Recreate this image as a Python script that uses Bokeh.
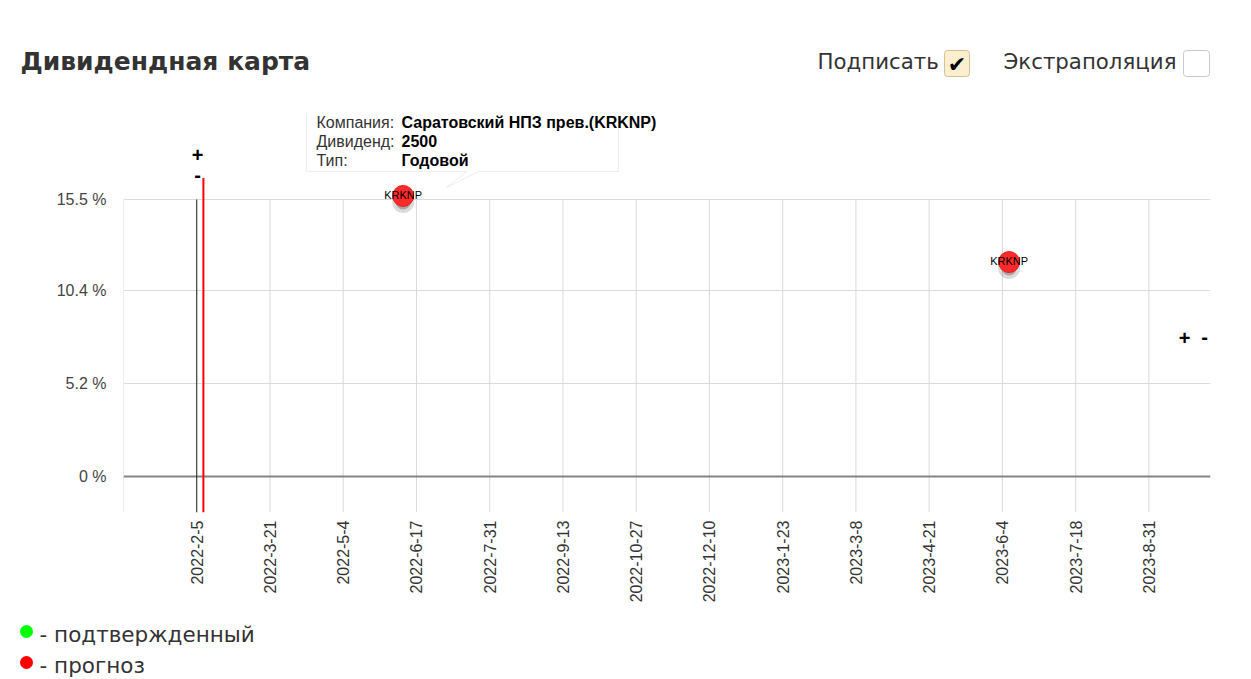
import math
import pandas as pd
from bokeh.plotting import figure
from bokeh.layouts import column
from bokeh.models import (ColumnDataSource, Range1d, FixedTicker, CustomJSTickFormatter,
                          Label, BoxAnnotation, PolyAnnotation)
from bokeh.core.properties import value
from bokeh.embed import file_html
from bokeh.resources import INLINE

# ---------------- data ----------------
tick_labels = ["2022-2-5", "2022-3-21", "2022-5-4", "2022-6-17", "2022-7-31", "2022-9-13",
               "2022-10-27", "2022-12-10", "2023-1-23", "2023-3-8", "2023-4-21", "2023-6-4",
               "2023-7-18", "2023-8-31"]
y_ticks = [0, 5.2, 10.4, 15.5]
div_dates = ["2022-06-09", "2023-06-08"]
div_yield = [15.7, 12.0]
div_ticker = ["KRKNP", "KRKNP"]
div_status = ["прогноз", "прогноз"]
today_date = "2022-02-05"
marker_date = "2022-02-09"
marker_top = 16.7
x_start, x_end = "2021-12-23", "2023-10-07"
tooltip_keys = ["Компания:", "Дивиденд:", "Тип:"]
tooltip_vals = ["Саратовский НПЗ прев.(KRKNP)", "2500", "Годовой"]
legend_texts = ["- подтвержденный", "- прогноз"]
legend_colors = ["#00ff00", "#ff0000"]
status_colors = {"подтвержденный": "#00ff00", "прогноз": "#ff2b2b"}

# ---------------- helpers ----------------
def ms(s):
    return int((pd.Timestamp(s) - pd.Timestamp("1970-01-01")) // pd.Timedelta(milliseconds=1))

W = 1243
HEAD_H, MAIN_H, LEG_H = 95, 517, 67
tick_ms = [ms(t) for t in tick_labels]
Y0, Y1 = -2.015, 21.04
FRAME_H = 412
SHADOW_DY = 6 * (Y1 - Y0) / FRAME_H


def blank_fig(top, height):
    f = figure(width=W, height=height, x_range=Range1d(0, W), y_range=Range1d(top + height, top),
               output_backend="svg", toolbar_location=None, min_border=0, frame_align=False,
               x_axis_location=None, y_axis_location=None, outline_line_color=None,
               background_fill_color="white", border_fill_color="white")
    f.xgrid.visible = False
    f.ygrid.visible = False
    return f


def dlabel(f, x, y, text, size, font="DejaVu Sans", style="normal", color="#333333",
           align="left", baseline="middle"):
    f.add_layout(Label(x=x, y=y, text=text, text_font=font, text_font_size=f"{size}px",
                       text_font_style=style, text_color=color, text_align=align,
                       text_baseline=baseline))


def dbox(f, l, t, r, b, fill, line, radius=0):
    f.add_layout(BoxAnnotation(left=l, right=r, top=t, bottom=b, fill_color=fill, fill_alpha=1,
                               line_color=line if line else "white", line_alpha=1 if line else 0,
                               line_width=1, border_radius=int(radius)))


# ---------------- header ----------------
h = blank_fig(0, HEAD_H)
dlabel(h, 20, 61, "Дивидендная карта", 25, style="bold", color="#333333")
dlabel(h, 817, 61, "Подписать", 21.3)
dbox(h, 944, 50, 969, 76, "#fcefcf", "#d5c28f", 3)
dlabel(h, 956.5, 63.5, "✔", 22, color="black", align="center")
dlabel(h, 1003, 61, "Экстраполяция", 21.3)
dbox(h, 1183, 50, 1209, 76, "white", "#c8c8c8", 3)

# ---------------- main chart ----------------
p = figure(width=W, height=MAIN_H, x_axis_type="datetime",
           x_range=Range1d(ms(x_start), ms(x_end)), y_range=Range1d(Y0, Y1),
           output_backend="svg", toolbar_location=None, frame_align=False,
           min_border_left=123, min_border_right=33, min_border_top=5, min_border_bottom=100,
           outline_line_color=None, background_fill_color="white", border_fill_color="white")

p.yaxis.ticker = FixedTicker(ticks=y_ticks)
p.yaxis.formatter = CustomJSTickFormatter(code="return tick + ' %';")
p.yaxis.axis_line_color = None
p.yaxis.major_tick_line_color = None
p.yaxis.major_tick_out = 0
p.yaxis.major_tick_in = 0
p.yaxis.minor_tick_line_color = None
p.yaxis.major_label_text_font = "Liberation Sans"
p.yaxis.major_label_text_font_size = "16px"
p.yaxis.major_label_text_color = "#444444"
p.yaxis.major_label_standoff = 17

p.xaxis.ticker = FixedTicker(ticks=tick_ms)
p.xaxis.formatter = CustomJSTickFormatter(args=dict(tvals=tick_ms, tlabels=tick_labels),
                                          code="const i = tvals.indexOf(tick); return i >= 0 ? tlabels[i] : '';")
p.xaxis.major_label_orientation = math.pi / 2
p.xaxis.axis_line_color = None
p.xaxis.major_tick_line_color = None
p.xaxis.major_tick_out = 0
p.xaxis.major_tick_in = 0
p.xaxis.minor_tick_line_color = None
p.xaxis.major_label_text_font = "Liberation Sans"
p.xaxis.major_label_text_font_size = "16px"
p.xaxis.major_label_text_color = "#333333"
p.xaxis.major_label_standoff = 8

p.xgrid.grid_line_color = None
p.ygrid.grid_line_color = "#dcdcdc"

gx = [ms(x_start)] + tick_ms
p.segment(x0=gx, y0=[Y0] * len(gx), x1=gx, y1=[y_ticks[-1]] * len(gx),
          line_color="#d9d9d9", line_width=1)
p.hspan(y=[0], line_color="#858585", line_width=2)

p.segment(x0=[ms(today_date)], y0=[y_ticks[-1]], x1=[ms(today_date)], y1=[Y0],
          line_color="#222222", line_width=1)
p.segment(x0=[ms(marker_date)], y0=[marker_top], x1=[ms(marker_date)], y1=[Y0],
          line_color="#ff0000", line_width=2)

src = ColumnDataSource(dict(
    x=[ms(d) for d in div_dates],
    y=div_yield,
    ys=[v - SHADOW_DY for v in div_yield],
    t=div_ticker,
    c=[status_colors[s] for s in div_status],
))
p.scatter("x", "ys", source=src, size=22, fill_color="black", fill_alpha=0.14, line_color=None)
p.scatter("x", "ys", source=src, size=15, fill_color="black", fill_alpha=0.24, line_color=None)
p.scatter("x", "y", source=src, size=21, fill_color="c", line_color="#ee1c1c", line_width=1)
p.text(x="x", y="y", text="t", source=src, text_font=value("Liberation Sans"),
       text_font_size="11px", text_align="center", text_baseline="middle",
       text_color="black", y_offset=-1)

# annotations inside the frame, positioned in page pixels
FL, FB = 123, 512


def slabel(px, py, text, size, font="Liberation Sans", style="normal", color="#333333",
           align="left", baseline="middle"):
    p.add_layout(Label(x=px - FL, y=FB - py, x_units="screen", y_units="screen", text=text,
                       text_font=font, text_font_size=f"{size}px", text_font_style=style,
                       text_color=color, text_align=align, text_baseline=baseline))


def sbox(l, t, r, b, fill, line):
    p.add_layout(BoxAnnotation(left=l - FL, right=r - FL, top=FB - t, bottom=FB - b,
                               left_units="screen", right_units="screen",
                               top_units="screen", bottom_units="screen",
                               fill_color=fill, fill_alpha=1,
                               line_color=line if line else "white", line_alpha=1 if line else 0))


tip = [(306, 108), (618, 108), (618, 171), (478, 171), (446, 187), (466, 171), (306, 171)]
p.add_layout(PolyAnnotation(xs=[a - FL for a, _ in tip], ys=[FB - b for _, b in tip],
                            xs_units="screen", ys_units="screen",
                            fill_color="white", fill_alpha=1, line_color="#c8c8c8", line_width=1))
sbox(304, 101, 620, 113, "white", None)
for i, (k, v) in enumerate(zip(tooltip_keys, tooltip_vals)):
    yc = 121.5 + i * 19
    slabel(316, yc, k, 16, color="#333333")
    slabel(401, yc, v, 16, style="bold", color="black")

slabel(197, 154, "+", 20, style="bold", color="black", align="center")
slabel(197, 174, "-", 20, style="bold", color="black", align="center")
slabel(1184, 337, "+", 20, style="bold", color="black", align="center")
slabel(1204, 336, "-", 20, style="bold", color="black", align="center")

# ---------------- legend ----------------
lg = blank_fig(HEAD_H + MAIN_H, LEG_H)
for txt, col, yc, cy in zip(legend_texts, legend_colors, [634, 665], [631, 662]):
    dbox(lg, 19.5, cy - 6.5, 32.5, cy + 6.5, col, None, 7)
    dlabel(lg, 39, yc, txt, 21.5)

layout = column(h, p, lg, spacing=0)
open("out.html", "w", encoding="utf-8").write(file_html(layout, INLINE, title="Дивидендная карта"))
